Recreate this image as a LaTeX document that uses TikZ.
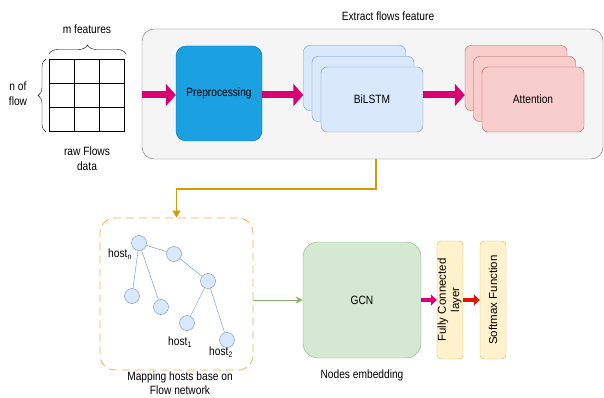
\documentclass[tikz,border=0pt]{standalone}
\usepackage{fontspec}
\setmainfont{Liberation Sans}[FakeStretch=0.85]
\newfontfamily\uprightlabel{Liberation Sans}
\usetikzlibrary{arrows.meta}
\usetikzlibrary{calc}
\usetikzlibrary{positioning}
\usetikzlibrary{decorations.pathreplacing}

\definecolor{grayfill}{HTML}{F5F5F5}
\definecolor{graydraw}{HTML}{666666}
\definecolor{prefill}{HTML}{1BA1E2}
\definecolor{predraw}{HTML}{006EAF}
\definecolor{bluefill}{HTML}{DAE8FC}
\definecolor{bluedraw}{HTML}{6C8EBF}
\definecolor{redfill}{HTML}{F8CECC}
\definecolor{reddraw}{HTML}{B85450}
\definecolor{greenfill}{HTML}{D5E8D4}
\definecolor{greendraw}{HTML}{82B366}
\definecolor{yellowfill}{HTML}{FFF2CC}
\definecolor{yellowdraw}{HTML}{D6B656}
\definecolor{pinkarrow}{HTML}{D80073}
\definecolor{redarrow}{HTML}{E51400}
\definecolor{orangeline}{HTML}{D79B00}
\definecolor{orangedash}{HTML}{FFA64D}

\tikzset{
    block/.style={draw, rounded corners=6pt, inner sep=0pt, align=center},
    lstmbox/.style={block, fill=bluefill, draw=bluedraw, minimum width=102pt, minimum height=65pt},
    attbox/.style={block, fill=redfill, draw=reddraw, minimum width=102pt, minimum height=65pt},
    layerbox/.style={block, rounded corners=4pt, fill=yellowfill, draw=yellowdraw, minimum width=26pt, minimum height=118pt, font=\uprightlabel\fontsize{11.5}{11}\selectfont},
    host/.style={circle, fill=bluefill, draw=bluedraw, minimum size=15pt, inner sep=0pt},
    fatarrow/.style={line width=7pt, draw=pinkarrow, -{Triangle[length=10pt,width=22pt]}},
    thinfat/.style={line width=4pt, -{Triangle[length=6pt,width=11pt]}},
}

\begin{document}
\begin{tikzpicture}[x=1pt, y=-1pt, font=\fontsize{12}{15}\selectfont]
    \useasboundingbox (0,0) rectangle (604,398);

    \coordinate (table) at (49,59);
    \coordinate (flowrow) at (0,95);
    \coordinate (turn) at (376,189);

    \draw[thick] (table) rectangle +(75,72);
    \draw[thick] (table)++(25,0) -- ++(0,72);
    \draw[thick] (table)++(50,0) -- ++(0,72);
    \draw[thick] (table)++(0,24) -- ++(75,0);
    \draw[thick] (table)++(0,48) -- ++(75,0);
    \draw[decorate, decoration={brace, amplitude=9pt}] (table)++(0,-5) -- ++(77,0);
    \draw[decorate, decoration={brace, amplitude=8pt}] (table)++(-3,73) -- ++(0,-73);
    \node (mfeat) at (87,29) {m features};
    \node[align=center] (nflow) at (18,94) {n of\\flow};
    \node[align=center] (raw) at (87,159) {raw Flows\\data};

    \node[block, rounded corners=12pt, fill=grayfill, draw=graydraw, minimum width=461pt, minimum height=130pt] (extract) at (372.5,94) {};
    \node (extractlabel) at (388,16) {Extract flows feature};

    \node[block, rounded corners=10pt, fill=prefill, draw=predraw, minimum width=86pt, minimum height=95pt] (pre) at (219,93.5) {Preprocessing};

    \node[lstmbox] (bil3) at (354.5,78) {};
    \node[lstmbox] (bil2) at (363,89) {};
    \node[lstmbox] (bil1) at (372,99.5) {BiLSTM};

    \node[attbox] (att3) at (516,78) {};
    \node[attbox] (att2) at (524.5,89) {};
    \node[attbox] (att1) at (533,99.5) {Attention};

    \draw[fatarrow] (extract.west |- flowrow) -- (pre.west |- flowrow);
    \draw[fatarrow] (pre.east |- flowrow) -- (bil3.west |- flowrow);
    \draw[fatarrow] (bil1.east |- flowrow) -- (att3.west |- flowrow);

    \node[draw=orangedash, thick, dash pattern=on 8pt off 5pt, rounded corners=15pt, minimum width=153pt, minimum height=152pt] (mapping) at (176.5,294) {};
    \node[align=center, font=\fontsize{12}{14}\selectfont] (mappinglabel) at (180,383) {Mapping hosts base on\\Flow network};
    \draw[orangeline, line width=1.5pt, -{Triangle[length=7pt,width=8pt]}] (extract.south -| turn) -- (turn) -| (mapping.north);

    \node[host] (hn) at (139,243) {};
    \node[host] (ha) at (174,254) {};
    \node[host] (hb) at (208,281) {};
    \node[host] (hc) at (132,296) {};
    \node[host] (hd) at (161,307) {};
    \node[host] (h1) at (187,323) {};
    \node[host] (h2) at (227,340) {};
    \draw[bluedraw] (hn) -- (ha) -- (hb);
    \draw[bluedraw] (hn) -- (hc);
    \draw[bluedraw] (hn) -- (hd);
    \draw[bluedraw] (hb) -- (h1);
    \draw[bluedraw] (hb) -- (h2);
    \node (hnlabel) at (120,254) {host\textsubscript{n}};
    \node (h1label) at (180,342) {host\textsubscript{1}};
    \node (h2label) at (221,352) {host\textsubscript{2}};

    \node[block, rounded corners=15pt, fill=greenfill, draw=greendraw, minimum width=118pt, minimum height=116pt] (gcn) at (362,300) {GCN};
    \node (embedlabel) at (362,375) {Nodes embedding};
    \node[layerbox] (fc) at (450,300) {\rotatebox{90}{\begin{tabular}{@{}c@{}}Fully Connected\\[1.5pt]layer\end{tabular}}};
    \node[layerbox] (soft) at (493,300) {\rotatebox{90}{Softmax Function}};

    \draw[greendraw, thick, -{Stealth[length=7pt,width=7pt]}] (mapping.east |- gcn.west) -- (gcn.west);
    \draw[thinfat, draw=pinkarrow] (gcn.east) -- (fc.west);
    \draw[thinfat, draw=redarrow] (fc.east) -- (soft.west);
\end{tikzpicture}
\end{document}
